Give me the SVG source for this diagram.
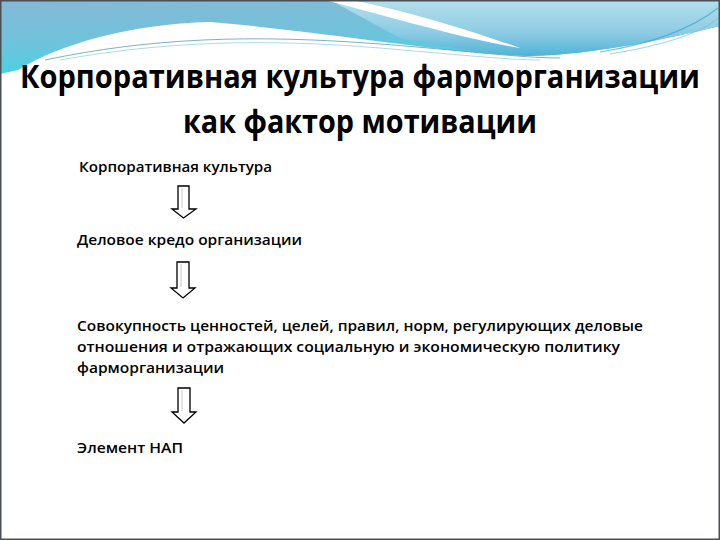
<svg xmlns="http://www.w3.org/2000/svg" width="720" height="540" viewBox="0 0 720 540">
  <defs>
    <linearGradient id="bandL" x1="0" y1="0" x2="0.3" y2="1">
      <stop offset="0" stop-color="#86b9d6"/>
      <stop offset="0.55" stop-color="#6fc3dc"/>
      <stop offset="1" stop-color="#3fd6e4"/>
    </linearGradient>
    <linearGradient id="bandR" x1="0" y1="0" x2="0" y2="1">
      <stop offset="0" stop-color="#b4dfec"/>
      <stop offset="0.6" stop-color="#8ccbe4"/>
      <stop offset="1" stop-color="#4db4d6"/>
    </linearGradient>
    <style>
      .title { font-family: "Open Sans", "Liberation Sans", sans-serif; font-weight: 700; font-size: 32px; fill: #000; }
      .body { font-family: "Open Sans", "Liberation Sans", sans-serif; font-weight: 600; font-size: 14px; fill: #000; }
      .arrow { fill: #fff; stroke: #000; stroke-width: 1.3; stroke-linejoin: miter; }
      .arrowin { fill: none; stroke: #c8c8c8; stroke-width: 1; }
    </style>
  </defs>

  <!-- slide background -->
  <rect x="0" y="0" width="720" height="540" fill="#ffffff"/>

  <!-- decorative top band -->
  <path d="M0,0 H720 V26 C670,38 600,54 530,56 C450,54 330,32 210,22 C130,24 60,44 18,70 L0,74 Z" fill="url(#bandL)"/>
  <path d="M330,0 H720 V26 C670,38 600,54 530,56 C480,54 440,46 400,38 Z" fill="url(#bandR)"/>
  <path d="M325,0 L352,0 C420,14 480,34 520,48 C470,40 400,20 325,0 Z" fill="#ffffff"/>
  <path d="M600,52 C650,44 690,30 718,8" fill="none" stroke="#3aa6cc" stroke-width="1.2" opacity="0.7"/>
  <path d="M610,54 C660,46 700,34 718,18" fill="none" stroke="#6cc4dc" stroke-width="1" opacity="0.7"/>
  <path d="M45,60 C150,38 250,34 380,44 C460,50 520,58 560,58" fill="none" stroke="#5b9fb6" stroke-width="1" opacity="0.8"/>
  <path d="M60,60 C160,42 260,38 380,48 C450,54 510,60 540,60" fill="none" stroke="#7fc7d3" stroke-width="0.8" opacity="0.8"/>

  <!-- frame -->
  <rect x="0.75" y="0.75" width="718.5" height="538.5" fill="none" stroke="#4a4f55" stroke-width="1.5"/>

  <!-- title -->
  <g id="title">
    <text class="title" x="360" y="88" text-anchor="middle" textLength="680" lengthAdjust="spacingAndGlyphs">Корпоративная культура фарморганизации</text>
    <text class="title" x="360" y="133" text-anchor="middle" textLength="354" lengthAdjust="spacingAndGlyphs">как фактор мотивации</text>
  </g>

  <!-- nodes -->
  <g id="node-culture">
    <text class="body" x="79" y="172" textLength="193" lengthAdjust="spacingAndGlyphs">Корпоративная культура</text>
  </g>
  <g id="node-credo">
    <text class="body" x="77" y="245" textLength="225" lengthAdjust="spacingAndGlyphs">Деловое кредо организации</text>
  </g>
  <g id="node-values">
    <text class="body" x="77" y="331" textLength="566" lengthAdjust="spacingAndGlyphs">Совокупность ценностей, целей, правил, норм, регулирующих деловые</text>
    <text class="body" x="77" y="352" textLength="543" lengthAdjust="spacingAndGlyphs">отношения и отражающих социальную и экономическую политику</text>
    <text class="body" x="77" y="373" textLength="147" lengthAdjust="spacingAndGlyphs">фарморганизации</text>
  </g>
  <g id="node-nap">
    <text class="body" x="77" y="453" textLength="106" lengthAdjust="spacingAndGlyphs">Элемент НАП</text>
  </g>

  <!-- connectors -->
  <g id="connectors">
    <path class="arrow" d="M178,186 H189 V209 H196 L183.5,218 L172,209 H178 Z"/>
    <line class="arrowin" x1="182" y1="188" x2="182" y2="208"/>
    <path class="arrow" d="M177,262 H189 V288 H195 L183,298 L171,288 H177 Z"/>
    <line class="arrowin" x1="181" y1="264" x2="181" y2="287"/>
    <path class="arrow" d="M178,388 H190 V412 H196 L184,423 L172,412 H178 Z"/>
    <line class="arrowin" x1="182" y1="390" x2="182" y2="411"/>
  </g>
</svg>
